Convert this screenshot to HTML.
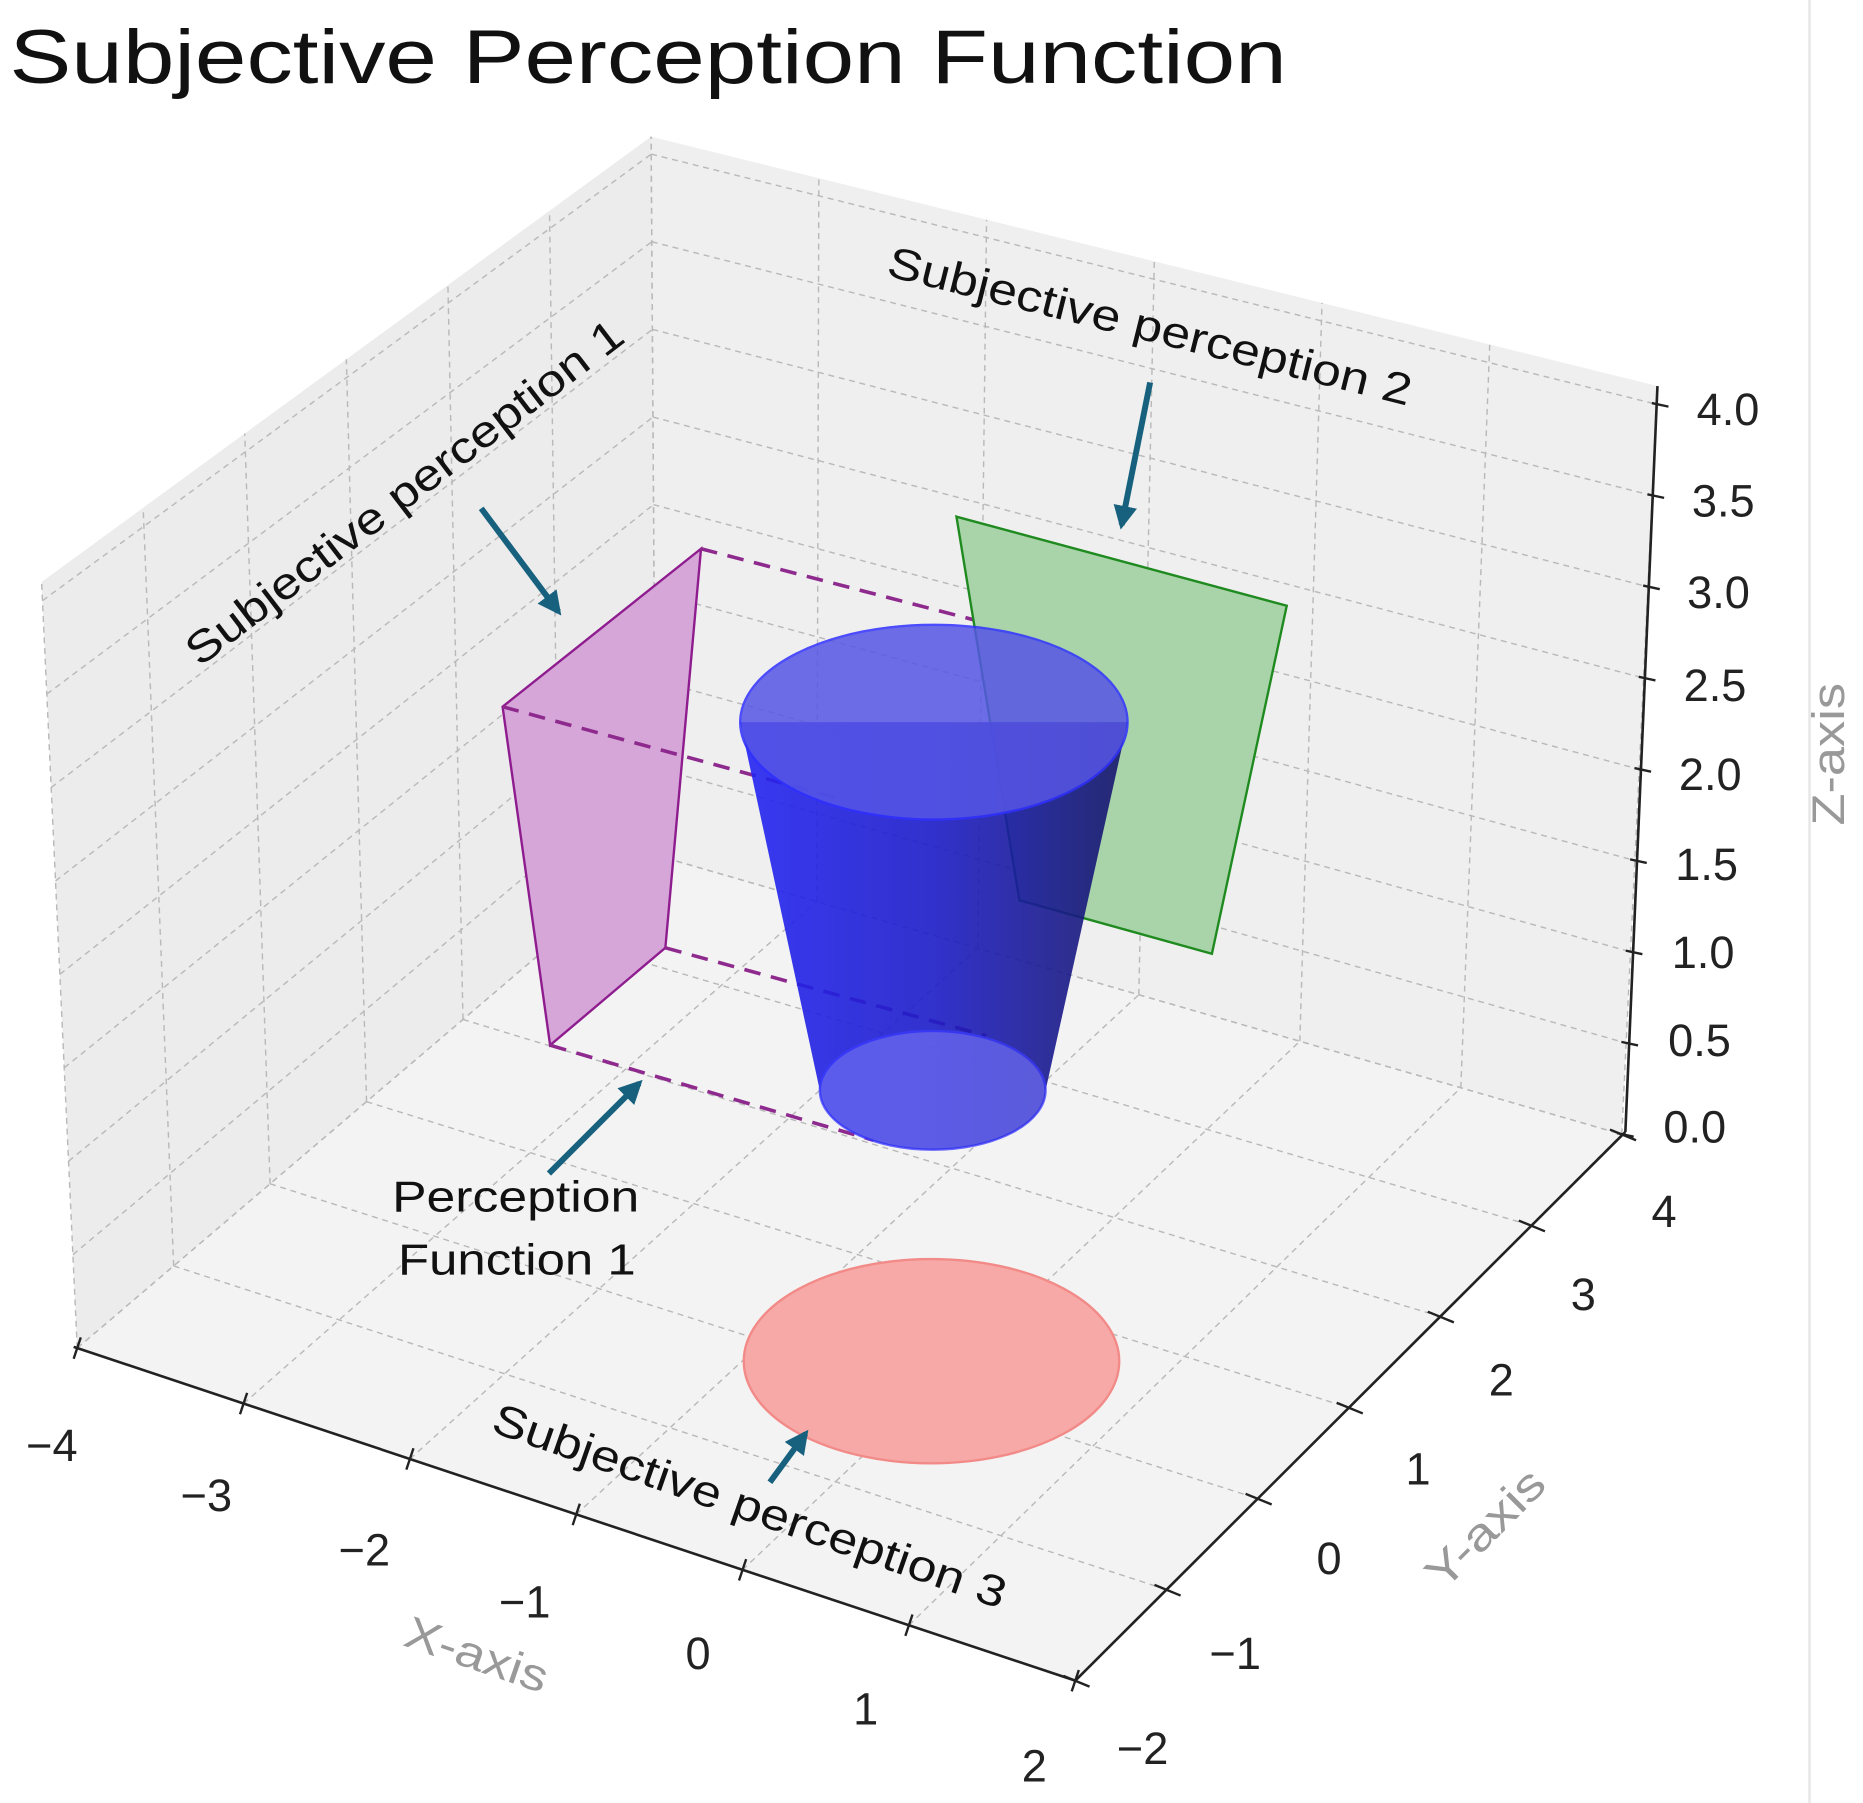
<!DOCTYPE html>
<html><head><meta charset="utf-8"><style>
html,body{margin:0;padding:0;background:#fff;}
svg{display:block;}
text{font-family:"Liberation Sans","DejaVu Sans",sans-serif;}
</style></head><body>
<svg id="s" width="1863" height="1803" viewBox="0 0 1568 1518" preserveAspectRatio="none" xmlns="http://www.w3.org/2000/svg">
<defs>
<linearGradient id="cg" x1="0" x2="1" y1="0" y2="0">
<stop offset="0" stop-color="#2424f4"/><stop offset="0.5" stop-color="#1c1cc8"/><stop offset="1" stop-color="#17176a"/>
</linearGradient>
<marker id="ah" viewBox="0 0 10 10" refX="8" refY="5" markerWidth="4" markerHeight="4" orient="auto"><path d="M0,0 L10,5 L0,10 z" fill="#17617e"/></marker>
</defs>
<rect width="1568" height="1518" fill="#fff"/>
<polygon points="35,490 548,115 552,720 65,1135" fill="#ececec"/>
<polygon points="548,115 1395,325 1365,955 552,720" fill="#efefef"/>
<polygon points="65,1135 552,720 1365,955 905,1415" fill="#f3f3f3"/>
<g id="grid" stroke="#b9b9b9" stroke-width="1.2" stroke-dasharray="5,4" fill="none"></g>
<line x1="1523" y1="0" x2="1523" y2="1518" stroke="#e6e6e6" stroke-width="2"/>

<g stroke="#222" stroke-width="2.2" fill="none">
<line x1="62" y1="1134" x2="905" y2="1415"/>
<line x1="905" y1="1415" x2="1368" y2="953"/>
<line x1="1368" y1="953" x2="1395" y2="325"/>
</g>
<g id="ticks" stroke="#222" stroke-width="2"></g>

<ellipse cx="784" cy="1146" rx="158" ry="86" fill="#f6a9a7" stroke="#f28a88" stroke-width="2"/>

<polygon points="423,595 590,462 560,798 463,880" fill="#d6a6d8" stroke="#8e1c8e" stroke-width="2"/>
<g stroke="#8e2a8e" stroke-width="3" stroke-dasharray="14,9" fill="none">
<line x1="590" y1="462" x2="870" y2="535"/>
<line x1="423" y1="595" x2="705" y2="672"/>
<line x1="560" y1="798" x2="830" y2="872"/>
<line x1="463" y1="880" x2="735" y2="960"/>
</g>

<polygon points="805,435 1083,510 1020,803 858,758" fill="#a9d4a9" stroke="#1f8a1f" stroke-width="2"/>

<path d="M623,608 L690,918 A95,50 0 0 0 880,918 L949,608 Z" fill="url(#cg)" opacity="0.9"/>
<ellipse cx="785" cy="918" rx="95" ry="50" fill="#6a6af0" opacity="0.75" stroke="#3a3aff" stroke-width="2"/>
<ellipse cx="786" cy="608" rx="163" ry="82" fill="#5656e6" opacity="0.85" stroke="#3030ff" stroke-width="2"/>

<g stroke="#17617e" stroke-width="5" fill="none" marker-end="url(#ah)">
<line x1="405" y1="428" x2="470" y2="515"/>
<line x1="968" y1="322" x2="944" y2="442"/>
<line x1="462" y1="988" x2="538" y2="912"/>
<line x1="648" y1="1248" x2="678" y2="1207"/>
</g>

<g fill="#111" font-size="37">
<text x="8" y="70" font-size="64" textLength="1075" lengthAdjust="spacingAndGlyphs">Subjective Perception Function</text>
<text transform="translate(168,562) rotate(-37.4)" textLength="453" lengthAdjust="spacingAndGlyphs">Subjective perception 1</text>
<text transform="translate(745,232) rotate(14)" textLength="453" lengthAdjust="spacingAndGlyphs">Subjective perception 2</text>
<text transform="translate(412,1205) rotate(19.2)" textLength="455" lengthAdjust="spacingAndGlyphs">Subjective perception 3</text>
<text x="330" y="1020" textLength="208" lengthAdjust="spacingAndGlyphs">Perception</text>
<text x="335" y="1073" textLength="200" lengthAdjust="spacingAndGlyphs">Function 1</text>
</g>
<g fill="#222" font-size="38">
<text x="1428" y="358">4.0</text>
<text x="1424" y="435">3.5</text>
<text x="1420" y="512">3.0</text>
<text x="1417" y="590">2.5</text>
<text x="1413" y="665">2.0</text>
<text x="1410" y="741">1.5</text>
<text x="1407" y="815">1.0</text>
<text x="1404" y="889">0.5</text>
<text x="1400" y="962">0.0</text>
<text x="22" y="1230">−4</text>
<text x="152" y="1272">−3</text>
<text x="285" y="1318">−2</text>
<text x="420" y="1362">−1</text>
<text x="577" y="1405">0</text>
<text x="718" y="1452">1</text>
<text x="860" y="1500">2</text>
<text x="940" y="1485">−2</text>
<text x="1018" y="1405">−1</text>
<text x="1108" y="1325">0</text>
<text x="1183" y="1250">1</text>
<text x="1253" y="1175">2</text>
<text x="1322" y="1103">3</text>
<text x="1390" y="1033">4</text>
</g>
<g fill="#999" font-size="38">
<text transform="translate(338,1385) rotate(19)" textLength="125" lengthAdjust="spacingAndGlyphs">X-axis</text>
<text transform="translate(1215,1340) rotate(-45)" textLength="125" lengthAdjust="spacingAndGlyphs">Y-axis</text>
<text transform="translate(1552,695) rotate(-90)" textLength="120" lengthAdjust="spacingAndGlyphs">Z-axis</text>
</g>
</svg>
<script>
(function(){
var NS="http://www.w3.org/2000/svg",g=document.getElementById('grid'),t=document.getElementById('ticks');
function bl(q,u,v){
 var a=q[0],b=q[1],c=q[2],d=q[3];
 return [(1-u)*(1-v)*a[0]+u*(1-v)*b[0]+u*v*c[0]+(1-u)*v*d[0],(1-u)*(1-v)*a[1]+u*(1-v)*b[1]+u*v*c[1]+(1-u)*v*d[1]];}
function ln(p,q,par){var l=document.createElementNS(NS,'line');l.setAttribute('x1',p[0]);l.setAttribute('y1',p[1]);l.setAttribute('x2',q[0]);l.setAttribute('y2',q[1]);par.appendChild(l);}
var F=[[65,1135],[905,1415],[1365,955],[552,720]];
for(var i=0;i<=6;i++){var u=i/6;ln(bl(F,u,0),bl(F,u,1),g);}
for(var i=0;i<=6;i++){var v=i/6;ln(bl(F,0,v),bl(F,1,v),g);}
var L=[[65,1135],[552,720],[548,115],[35,490]];
for(var i=0;i<=6;i++){var u=i/6;ln(bl(L,u,0),bl(L,u,1),g);}
for(var k=0;k<=8;k++){var v=k*0.5/4.1;ln(bl(L,0,v),bl(L,1,v),g);}
var R=[[552,720],[1365,955],[1395,325],[548,115]];
for(var i=0;i<=6;i++){var u=i/6;ln(bl(R,u,0),bl(R,u,1),g);}
for(var k=0;k<=8;k++){var v=k*0.5/4.1;ln(bl(R,0,v),bl(R,1,v),g);}
for(var i=0;i<=6;i++){var p=bl(F,i/6,0);ln([p[0]+3,p[1]-9],[p[0]-3,p[1]+9],t);}
for(var i=0;i<=6;i++){var p=bl(F,1,i/6);ln([p[0]-10,p[1]-4],[p[0]+12,p[1]+5],t);}
for(var k=0;k<=8;k++){var v=k*0.5/4.1;var p=bl(R,1,v);ln([p[0]-4,p[1]-1],[p[0]+10,p[1]+2],t);}
})();
</script>
</body></html>
